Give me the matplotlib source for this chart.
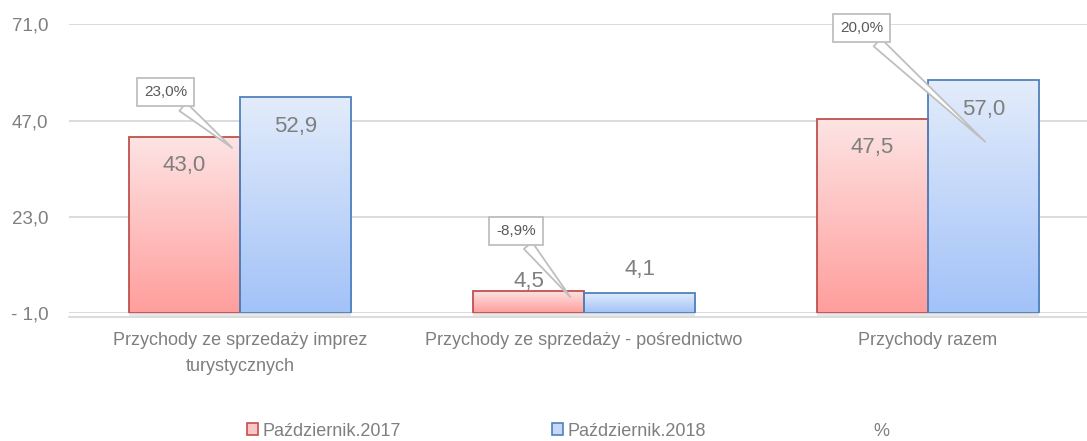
import matplotlib
matplotlib.use('Agg')
import matplotlib.pyplot as plt
import numpy as np
from matplotlib.patches import Patch, Rectangle
from matplotlib.colors import LinearSegmentedColormap

categories = ["Przychody ze sprzedaży imprez\nturystycznych",
              "Przychody ze sprzedaży - pośrednictwo",
              "Przychody razem"]
series_names = ["Październik.2017", "Październik.2018", "%"]
values_2017 = [43.0, 4.5, 47.5]
values_2018 = [52.9, 4.1, 57.0]
pct_change = [23.0, -8.9, 20.0]
y_ticks = [-1.0, 23.0, 47.0, 71.0]
y_tick_labels = ["- 1,0", "23,0", "47,0", "71,0"]

FONT = ['Liberation Sans Narrow', 'Liberation Sans', 'DejaVu Sans']
plt.rcParams['font.family'] = FONT

TXT = '#7f7f7f'
GRID = '#d9d9d9'
RED_EDGE = '#c0504d'
BLUE_EDGE = '#4f81bd'
red_cmap = LinearSegmentedColormap.from_list('r', ['#ff9e9c', '#fde4e4'])
blue_cmap = LinearSegmentedColormap.from_list('b', ['#a2c2f8', '#e3ecfb'])

W, H = 1087, 441
fig = plt.figure(figsize=(W / 100, H / 100), dpi=100)
ax = fig.add_axes([69 / W, 1 - 313 / H, 1 - 69 / W, (313 - 24.3) / H])

ymin, ymax = y_ticks[0], y_ticks[-1]
x = np.arange(len(categories))
w = 0.323
ax.set_xlim(-0.497, 2.462)
ax.set_ylim(ymin, ymax)

grad = np.linspace(0, 1, 256).reshape(-1, 1)


def draw_series(xs, vals, cmap, edge):
    bars = ax.bar(xs, np.array(vals) - ymin, bottom=ymin, width=w,
                  facecolor='none', edgecolor=edge, linewidth=1.3, zorder=4)
    for b in bars:
        x0, y0 = b.get_x(), b.get_y()
        im = ax.imshow(grad, cmap=cmap, origin='lower', aspect='auto',
                       extent=[x0, x0 + b.get_width(), y0, y0 + b.get_height()],
                       zorder=3)
        im.set_clip_path(b)
    return bars


bars17 = draw_series(x - w / 2, values_2017, red_cmap, RED_EDGE)
bars18 = draw_series(x + w / 2, values_2018, blue_cmap, BLUE_EDGE)

# soft shadow under the bar groups
for xi in x:
    for k, a in enumerate([0.18, 0.12, 0.06]):
        ax.add_patch(Rectangle((xi - w, ymin - 0.35 * (k + 1)), 2 * w, 0.35 * (k + 1),
                               facecolor='#808080', edgecolor='none', alpha=a,
                               zorder=2, clip_on=False))

ax.set_xlim(-0.497, 2.462)
ax.set_ylim(ymin, ymax)


def fmt(v):
    return f"{v:.1f}".replace('.', ',')


# value labels
for bars, vals, small_off in [(bars17, values_2017, 6.5), (bars18, values_2018, 16.5)]:
    for b, v in zip(bars, vals):
        cx = b.get_x() + b.get_width() / 2
        off = -21 if v > 20 else small_off
        ax.annotate(fmt(v), (cx, v), xytext=(0, off), textcoords='offset points',
                    ha='center', va='center', fontsize=16, color=TXT, zorder=6)

# percentage callouts
tips = [(-0.023, 40.2), (-0.04, 3.0), (0.166, 41.7)]
box_offsets = [(-48, 40), (-39, 47.5), (-89, 82)]
for xi, p, (dx, ty), (ox, oy) in zip(x, pct_change, tips, box_offsets):
    ax.annotate(fmt(p) + '%', (xi + dx, ty), xytext=(ox, oy), textcoords='offset points',
                ha='center', va='center', fontsize=11, color='#595959', zorder=7,
                bbox=dict(boxstyle='square,pad=0.45', fc='white', ec='#bfbfbf', lw=1.3),
                arrowprops=dict(arrowstyle='wedge,tail_width=0.7,shrink_factor=0.5',
                                fc='white', ec='#bfbfbf', lw=1.3, shrinkA=0, shrinkB=0))

# axes styling
ax.set_yticks(y_ticks)
ax.set_yticklabels(y_tick_labels)
ax.set_xticks(x)
ax.set_xticklabels([])
for xi, cat in zip(x, categories):
    ax.annotate(cat, (xi, 0), xycoords=('data', 'axes fraction'), xytext=(0, -14),
                textcoords='offset points', ha='center', va='top', fontsize=13,
                color=TXT, linespacing=1.65, annotation_clip=False)
ax.tick_params(axis='y', length=0, pad=15, labelsize=13.5, labelcolor=TXT)
ax.tick_params(axis='x', length=0)
ax.grid(axis='y', color=GRID, linewidth=1.3)
ax.set_axisbelow(True)
for s in ['top', 'right', 'left']:
    ax.spines[s].set_visible(False)
ax.spines['bottom'].set_color(GRID)
ax.spines['bottom'].set_linewidth(1.3)
ax.spines['bottom'].set_position(('outward', 3))

# legend
handles = [Patch(facecolor='#fcc6c6', edgecolor=RED_EDGE, linewidth=1.2),
           Patch(facecolor='#c6d8f8', edgecolor=BLUE_EDGE, linewidth=1.2),
           Patch(facecolor='none', edgecolor='none')]
fig.legend(handles, series_names, loc='center', bbox_to_anchor=(568 / W, 1 - 431 / H),
           ncol=3, frameon=False, fontsize=13, labelcolor=TXT,
           handlelength=0.6, handleheight=0.6, handletextpad=0.25, columnspacing=8.4)

fig.savefig('out.png', dpi=100)
